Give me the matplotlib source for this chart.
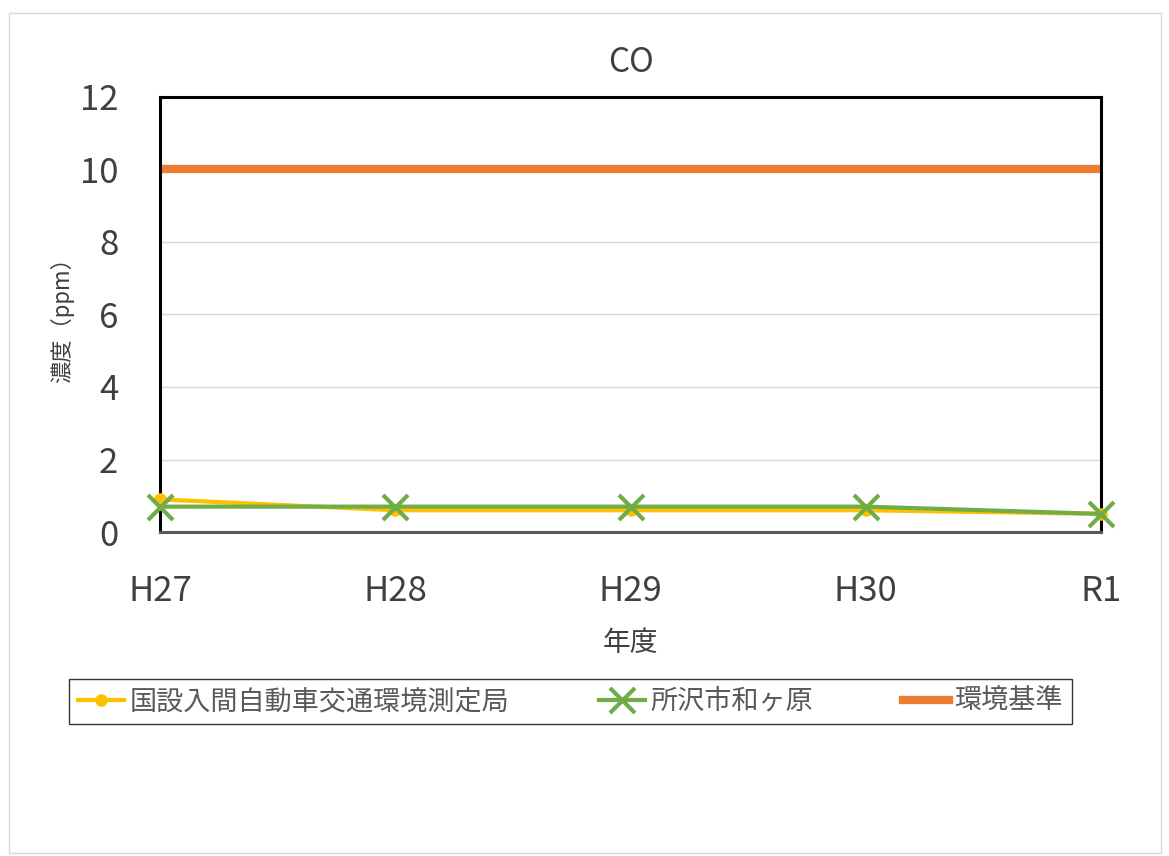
import matplotlib
matplotlib.use("Agg")
import matplotlib.pyplot as plt
from matplotlib.patches import Rectangle

plt.rcParams['font.family'] = ['Noto Sans CJK JP', 'DejaVu Sans']

years = ['H27', 'H28', 'H29', 'H30', 'R1']
kokusetsu = [0.9, 0.6, 0.6, 0.6, 0.5]
tokorozawa = [0.7, 0.7, 0.7, 0.7, 0.5]
standard = [10, 10, 10, 10, 10]
yticks = [0, 2, 4, 6, 8, 10, 12]

fig = plt.figure(figsize=(11.69, 8.56), dpi=100)
fig.patches.append(Rectangle((0.008, 0.003), 0.985, 0.982, transform=fig.transFigure,
                             fill=False, edgecolor='#d9d9d9', linewidth=1))
ax = fig.add_axes([0.1369, 0.3785, 0.8049, 0.5082])

x = list(range(len(years)))
ax.plot(x, kokusetsu, color='#FFC000', linewidth=3, marker='o', markersize=8,
        label='国設入間自動車交通環境測定局', clip_on=False, zorder=3)
ax.plot(x, tokorozawa, color='#70AD47', linewidth=3, marker='x', markersize=18,
        markeredgewidth=3, label='所沢市和ヶ原', clip_on=False, zorder=4)
ax.plot(x, standard, color='#ED7D31', linewidth=6, label='環境基準', zorder=2)

ax.set_xlim(0, 4)
ax.set_ylim(0, 12)
ax.set_yticks(yticks)
ax.set_xticks(x)
ax.set_xticklabels(years)
ax.yaxis.grid(True, color='#d9d9d9', linewidth=1)
ax.set_axisbelow(True)
ax.tick_params(axis='both', length=0, labelsize=25, colors='#404040')
ax.tick_params(axis='y', pad=30)
ax.tick_params(axis='x', pad=30)
for s in ['left', 'right', 'top']:
    ax.spines[s].set_color('black')
    ax.spines[s].set_linewidth(2.2)
ax.spines['bottom'].set_color('#595959')
ax.spines['bottom'].set_linewidth(2.2)

ax.set_title('CO', fontsize=24, color='#404040', pad=18)
ax.set_xlabel('年度', fontsize=20, color='#404040', labelpad=14)
ax.set_ylabel('濃度（ppm）', fontsize=16, color='#404040', labelpad=4)

leg = fig.legend(loc='center', bbox_to_anchor=(0.488, 0.1805), ncol=3, fontsize=19.5,
                 frameon=True, fancybox=False, edgecolor='black', handlelength=1.7,
                 columnspacing=3.3, handletextpad=0.2, borderpad=0.35, borderaxespad=0)
leg.get_frame().set_linewidth(1)
for t in leg.get_texts():
    t.set_color('#595959')

fig.savefig('out.png', dpi=100)
